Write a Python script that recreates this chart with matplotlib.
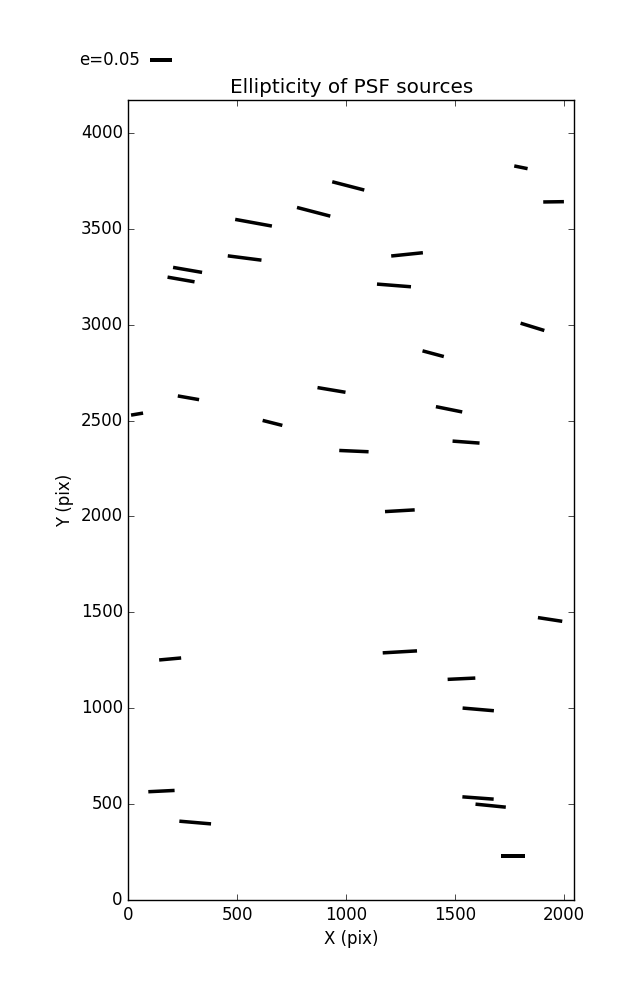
import numpy as np
import matplotlib
matplotlib.use("Agg")
import matplotlib.pyplot as plt

plt.style.use("classic")
plt.rcParams["font.family"] = ["DejaVu Sans"]

# Source positions (pix) and ellipticity (magnitude, display angle in degrees)
x_pos = [575, 851, 1010, 534, 272, 242, 1803, 1953, 1280, 1220,
         40, 276, 662, 933, 1036, 1856, 1400, 1473, 1551, 1247,
         1937, 1247, 192, 152, 307, 1606, 1664, 1765, 1530, 1607]
y_pos = [3532, 3589, 3724, 3348, 3286, 3236, 3821, 3641, 3367, 3205,
         2534, 2619, 2488, 2660, 2341, 2989, 2849, 2559, 2388, 2030,
         1463, 1294, 1257, 568, 404, 532, 492, 230, 1154, 994]
ellip = [0.0848, 0.0782, 0.0752, 0.0772, 0.0669, 0.0623, 0.0309, 0.0470, 0.0724, 0.0775,
         0.0277, 0.0491, 0.0462, 0.0645, 0.0667, 0.0564, 0.0501, 0.0610, 0.0615, 0.0676,
         0.0559, 0.0781, 0.0502, 0.0598, 0.0723, 0.0713, 0.0692, 0.0545, 0.0630, 0.0714]
angle_deg = [-10.3, -14.6, -14.5, -7.3, -9.8, -9.9, -11.5, 0.8, 5.9, -4.5,
             9.5, -9.9, -14.2, -9.5, -2.5, -17.1, -15.0, -11.4, -4.2, 3.3,
             -8.7, 3.3, 5.2, 2.8, -4.9, -4.2, -5.7, 0.0, 2.7, -4.9]
key_e = 0.05

x = np.array(x_pos, float)
y = np.array(y_pos, float)
e = np.array(ellip)
th = np.deg2rad(angle_deg)
U = e * np.cos(th)
V = e * np.sin(th)

fig = plt.figure(figsize=(6.37, 10.0), dpi=100, facecolor="white")
ax = fig.add_axes([0.2015, 0.1, 0.7, 0.8])
ax.set_facecolor("white")

q = ax.quiver(x, y, U, V, angles="uv", pivot="middle",
              headwidth=0, headlength=0, headaxislength=0,
              scale_units="inches", scale=0.05 / 0.22,
              units="inches", width=0.035, color="black")

ax.quiverkey(q, 0.2355, 0.94, key_e, "e=0.05", labelpos="W",
             coordinates="figure", fontproperties={"size": 12})

ax.set_xlim(0, 2048)
ax.set_ylim(0, 4172)
ax.set_xticks([0, 500, 1000, 1500, 2000])
ax.set_yticks([0, 500, 1000, 1500, 2000, 2500, 3000, 3500, 4000])
ax.set_xlabel("X (pix)", fontsize=12)
ax.set_ylabel("Y (pix)", fontsize=12)
ax.set_title("Ellipticity of PSF sources", fontsize=14.4)
ax.tick_params(labelsize=12)

fig.savefig("out.png", dpi=100, facecolor="white")
